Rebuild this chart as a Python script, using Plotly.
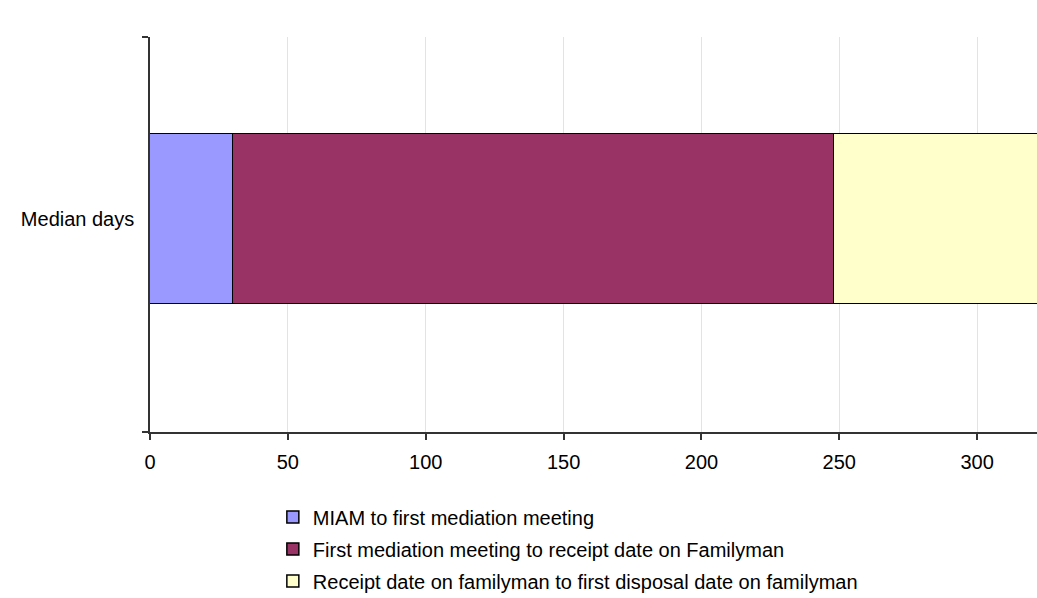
import plotly.graph_objects as go

# Median days spent in each stage
category = ["Median days"]
stages = [
    "MIAM to first mediation meeting",
    "First mediation meeting to receipt date on Familyman",
    "Receipt date on familyman to first disposal date on familyman",
]
median_days = [30, 218, 100]
colors = ["#9999FF", "#993366", "#FFFFCC"]

x_ticks = [0, 50, 100, 150, 200, 250, 300]

fig = go.Figure()
for i, (name, val, col) in enumerate(zip(stages, median_days, colors)):
    fig.add_trace(go.Bar(
        y=[0], x=[val], name=name, orientation="h",
        legendgroup=f"g{i}",
        marker=dict(color=col, line=dict(color="#000000", width=1.5)),
        width=0.43,
    ))

font = dict(family="Liberation Sans, Arial, sans-serif", size=20, color="#000000")

fig.update_layout(
    width=1037, height=598,
    margin=dict(l=150, r=0, t=37, b=166),
    barmode="stack",
    bargap=0,
    plot_bgcolor="#FFFFFF",
    paper_bgcolor="#FFFFFF",
    font=font,
    showlegend=True,
    legend=dict(
        orientation="v", traceorder="grouped", tracegroupgap=3,
        x=0.1385, xanchor="left", yref="container", y=0.168, yanchor="top",
        font=font, bgcolor="rgba(0,0,0,0)", borderwidth=0,
    ),
    xaxis=dict(
        range=[0, 321.7], tickvals=x_ticks, ticktext=[str(v) for v in x_ticks],
        showgrid=True, gridcolor="#E3E3E3", gridwidth=1,
        showline=True, linecolor="#333333", linewidth=1.5,
        ticks="outside", ticklen=6, tickcolor="#333333", tickwidth=1.5,
        ticklabelstandoff=5,
        zeroline=False, fixedrange=True,
    ),
    yaxis=dict(
        range=[-0.539, 0.461], tickvals=[0], ticktext=category,
        ticks="", showgrid=False, zeroline=False,
        showline=True, linecolor="#333333", linewidth=1.5,
        ticklabelstandoff=10,
        minor=dict(tickmode="array", tickvals=[-0.539, 0.461], ticks="outside",
                   ticklen=6, tickcolor="#333333", tickwidth=1.5, showgrid=False),
        fixedrange=True,
    ),
)

fig.write_html("out.html")
